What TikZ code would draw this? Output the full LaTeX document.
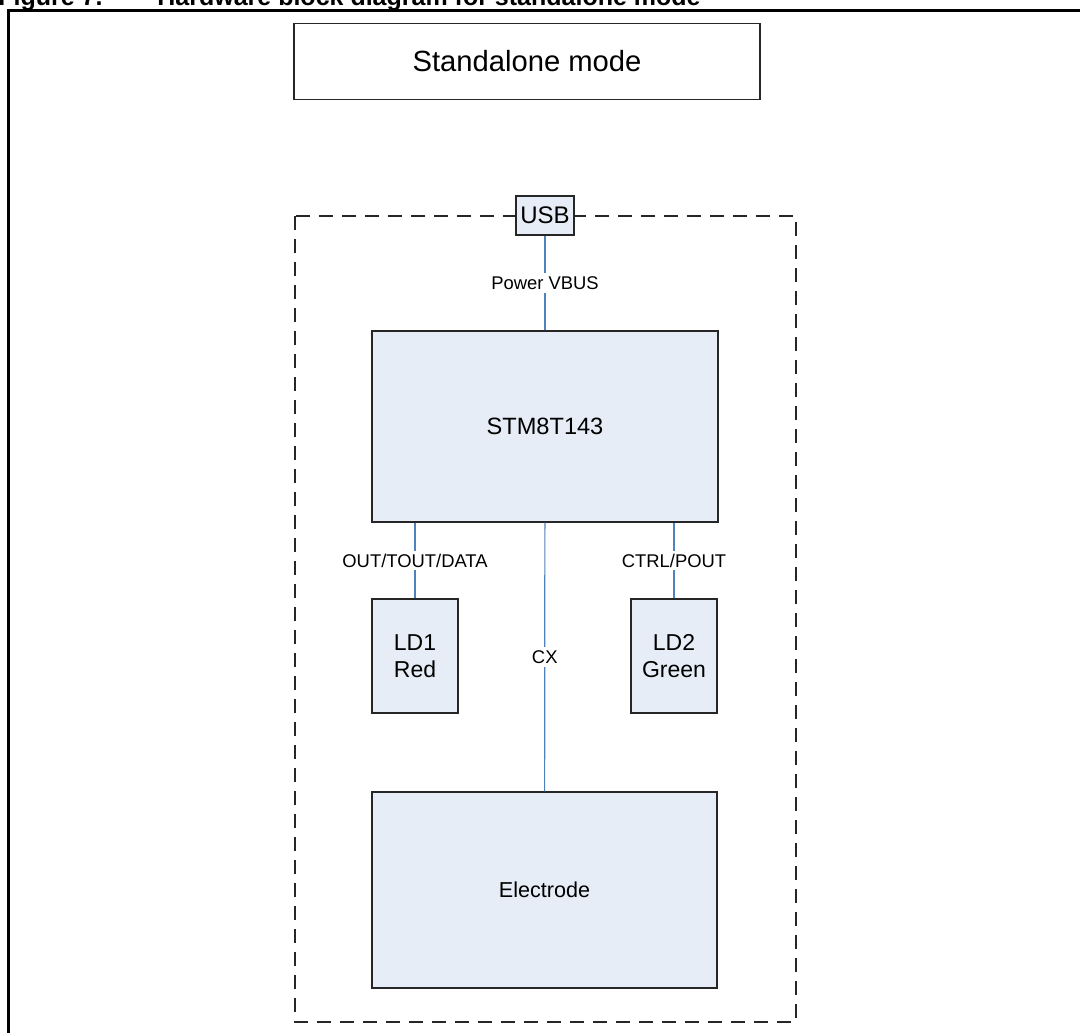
\documentclass[tikz,border=0pt]{standalone}
\usepackage{fontspec}
\setmainfont{Liberation Sans}
\usepackage{xcolor}
\usepackage{tikz}
\usetikzlibrary{positioning,calc}
\definecolor{boxfill}{HTML}{E7EDF6}
\definecolor{wireblue}{HTML}{4F81BD}

\begin{document}
\begin{tikzpicture}[x=0.5pt, y=-0.5pt,
            block/.style={draw=black!85, fill=boxfill, line width=0.7pt, inner sep=0pt, align=center},
            wire/.style={draw=wireblue, line width=0.6pt},
            siglabel/.style={fill=white, inner sep=1.5pt, font=\fontsize{9.2}{11}\selectfont},
            caption/.style={anchor=base west, inner sep=0pt, font=\bfseries\fontsize{12.5}{15}\selectfont}
        ]
            \useasboundingbox (0,0) rectangle (1080,1032);

            % Caption and frame
            \node[caption] (figno) at (-2,5.5) {Figure 7.};
            \node[caption] (figtitle) at (157,5.5) {Hardware block diagram for standalone mode};
            \draw[line width=1.25pt] (1090,10.5) -- (8.5,10.5) -- (8.5,1045);

            % Title
            \node[draw=black!85, line width=0.7pt, minimum width=233pt, minimum height=38pt,
                  font=\fontsize{14.6}{17}\selectfont] (title) at (527,61.5) {Standalone mode};

            % Board outline
            \draw[black!85, line width=0.7pt, dash pattern=on 7pt off 4.5pt] (295,216) rectangle (796,1022);

            % Blocks
            \node[block, minimum width=29pt, minimum height=19.5pt, font=\fontsize{12}{14}\selectfont] (usb) at (545,215.5) {USB};
            \node[block, minimum width=173pt, minimum height=95.5pt, font=\fontsize{11.8}{14}\selectfont] (mcu) at (545,426.5) {STM8T143};
            \node[block, minimum width=43pt, minimum height=57pt, font=\fontsize{11.5}{13.5}\selectfont] (ld1) at (415,656) {LD1\\Red};
            \node[block, minimum width=43pt, minimum height=57pt, font=\fontsize{11.5}{13.5}\selectfont] (ld2) at (674,656) {LD2\\Green};
            \node[block, minimum width=172.5pt, minimum height=98pt, font=\fontsize{10.8}{13}\selectfont] (electrode) at (544.5,890) {Electrode};

            % Connections
            \draw[wire] (usb) -- node[siglabel] (vbus) {Power VBUS} (mcu);
            \draw[wire] (ld1.north |- mcu.south) -- node[siglabel] (out) {OUT/TOUT/DATA} (ld1.north);
            \draw[wire] (ld2.north |- mcu.south) -- node[siglabel] (ctrl) {CTRL/POUT} (ld2.north);
            \draw[wire] (mcu) -- node[siglabel] (cx) {CX} (electrode);
        \end{tikzpicture}
\end{document}
